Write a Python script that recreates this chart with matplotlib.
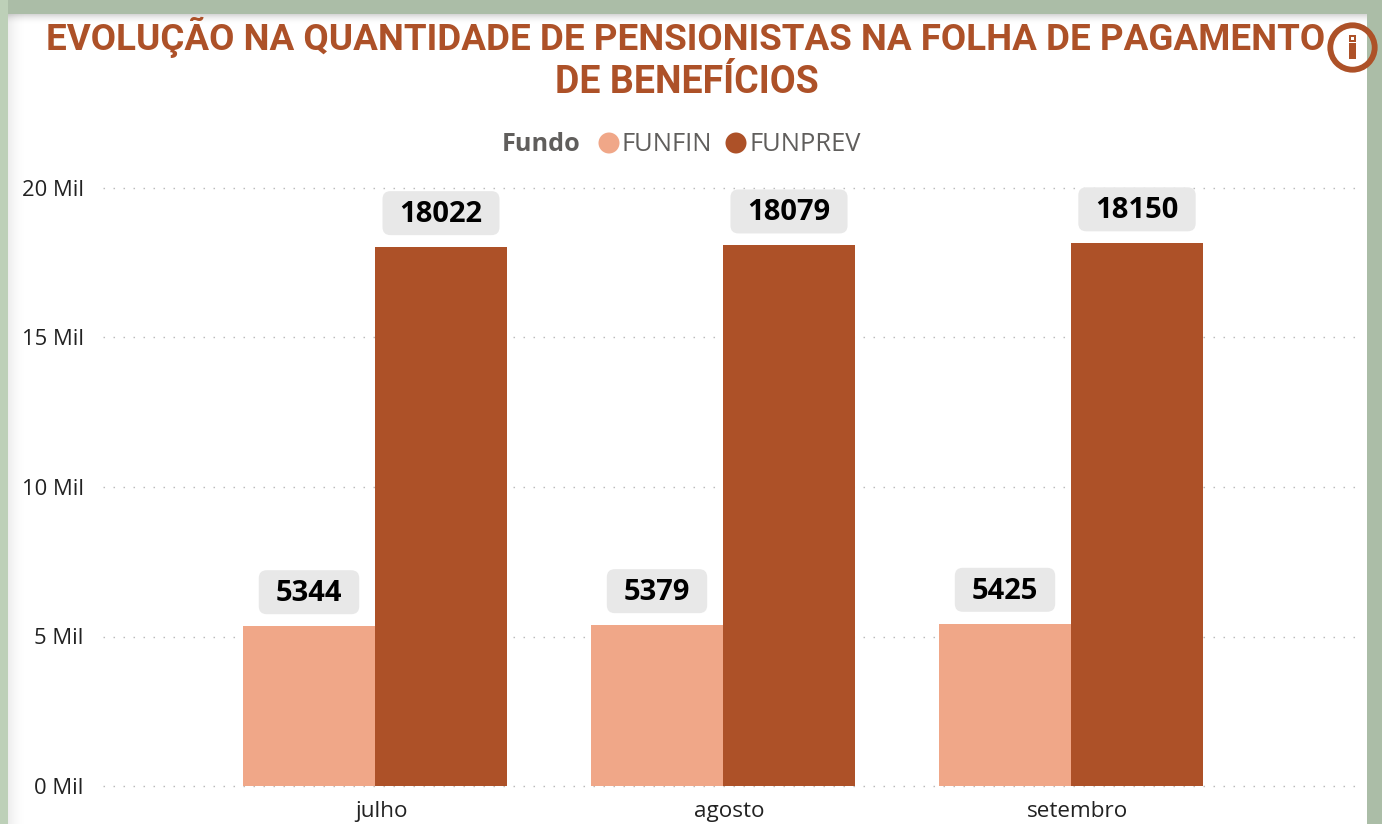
import numpy as np
import matplotlib
matplotlib.use("Agg")
import matplotlib.pyplot as plt
from matplotlib.patches import Circle, Rectangle, FancyBboxPatch
from matplotlib.transforms import IdentityTransform

# Valores
meses = ["julho", "agosto", "setembro"]
funfin = [5344, 5379, 5425]
funprev = [18022, 18079, 18150]
y_ticks = [0, 5000, 10000, 15000, 20000]
y_labels = ["0 Mil", "5 Mil", "10 Mil", "15 Mil", "20 Mil"]

COR_CLARA = "#F0A788"
COR_ESCURA = "#AD5128"
W, H = 1382, 824

plt.rcParams["font.family"] = ["Open Sans", "DejaVu Sans"]
fig = plt.figure(figsize=(W / 100, H / 100), dpi=100, facecolor="#ABBDA7")

# Fundo verde e cartão branco, em pixels
bg = fig.add_axes([0, 0, 1, 1], zorder=0)
bg.set_xlim(0, W)
bg.set_ylim(H, 0)
bg.axis("off")
bg.add_patch(Rectangle((0, 0), 8, H, color="#BDD0B8", lw=0))
bg.add_patch(Rectangle((8, 14), 1359, H - 14, color="white", lw=0))
# sombra interna suave do cartão
for i in range(10):
    bg.add_patch(Rectangle((8, 14 + i), 1359, 1, color="#707070", alpha=0.28 * (1 - i / 10) ** 2, lw=0))
for i in range(18):
    bg.add_patch(Rectangle((8 + i, 14), 1, H - 14, color="#808080", alpha=0.14 * (1 - i / 18) ** 2, lw=0))

# Gráfico principal
ax = fig.add_axes([103 / W, (H - 786) / H, 1255 / W, 598 / H], zorder=1)
ax.patch.set_alpha(0)
x = np.arange(len(meses))
largura = 132 / 348
ax.bar(x - largura / 2, funfin, largura, color=COR_CLARA, zorder=3)
ax.bar(x + largura / 2, funprev, largura, color=COR_ESCURA, zorder=3)
ax.set_xlim(-272 / 348, 983 / 348)
ax.set_ylim(0, 20000)

ax.set_yticks(y_ticks)
ax.set_yticklabels(y_labels, fontsize=15.8, color="#222222")
ax.set_xticks(x + 0.018)
ax.set_xticklabels(meses, fontsize=16.2, color="#222222")
ax.tick_params(axis="y", length=0, pad=14)
ax.tick_params(axis="x", length=0, pad=11)
ax.grid(axis="y", color="#BBBBBB", linewidth=1.0, linestyle=(0, (1.1, 6.1)), zorder=1)
for linha in ax.get_ygridlines():
    linha.set_clip_on(False)
for lado in ax.spines.values():
    lado.set_visible(False)

# Camada de cima: título, legenda, ícone e rótulos
top = fig.add_axes([0, 0, 1, 1], zorder=2)
top.set_xlim(0, W)
top.set_ylim(H, 0)
top.axis("off")

# Rótulos de valor com caixa arredondada
renderer = fig.canvas.get_renderer()
for serie, desloc in ((funfin, -largura / 2), (funprev, largura / 2)):
    for xi, v in zip(x, serie):
        px, py = ax.transData.transform((xi + desloc, v))
        txt = ax.annotate(str(v), (xi + desloc, v), xytext=(0, 23.6), textcoords="offset points",
                          ha="center", va="center", fontsize=21, fontweight="bold", color="black",
                          zorder=6, clip_on=False)
        larg_caixa = txt.get_window_extent(renderer).width + 34
        r = 8
        ax.add_patch(FancyBboxPatch((px - larg_caixa / 2 + r, py + 12 + r), larg_caixa - 2 * r, 44 - 2 * r,
                                    boxstyle=f"round,pad={r},rounding_size={r}", facecolor="#E8E8E8",
                                    edgecolor="none", transform=IdentityTransform(), zorder=5, clip_on=False))

top.text(686, 37, "EVOLUÇÃO NA QUANTIDADE DE PENSIONISTAS NA FOLHA DE PAGAMENTO",
         ha="center", va="center", fontsize=26.5, fontweight="bold", color=COR_ESCURA, family="Roboto")
top.text(687, 82, "DE BENEFÍCIOS",
         ha="center", va="center", fontsize=27, fontweight="bold", color=COR_ESCURA, family="Roboto")

top.text(502, 144, "Fundo", ha="left", va="center", fontsize=18.2, fontweight="bold", color="#605E5C")
top.add_patch(Circle((609, 143), 10.5, color=COR_CLARA, lw=0))
top.text(622, 144, "FUNFIN", ha="left", va="center", fontsize=18.4, color="#605E5C")
top.add_patch(Circle((736, 143), 10.5, color=COR_ESCURA, lw=0))
top.text(750, 144, "FUNPREV", ha="left", va="center", fontsize=18.4, color="#605E5C")

top.add_patch(Circle((1352.5, 47.5), 22.2, fill=False, edgecolor=COR_ESCURA, linewidth=4.2))
top.add_patch(Rectangle((1349, 43), 7, 16, color=COR_ESCURA, lw=0))
top.add_patch(Rectangle((1349, 35), 7, 7, color=COR_ESCURA, lw=0))
top.add_patch(Rectangle((1351, 37), 3, 3, color="white", lw=0))

fig.savefig("out.png", dpi=100)
